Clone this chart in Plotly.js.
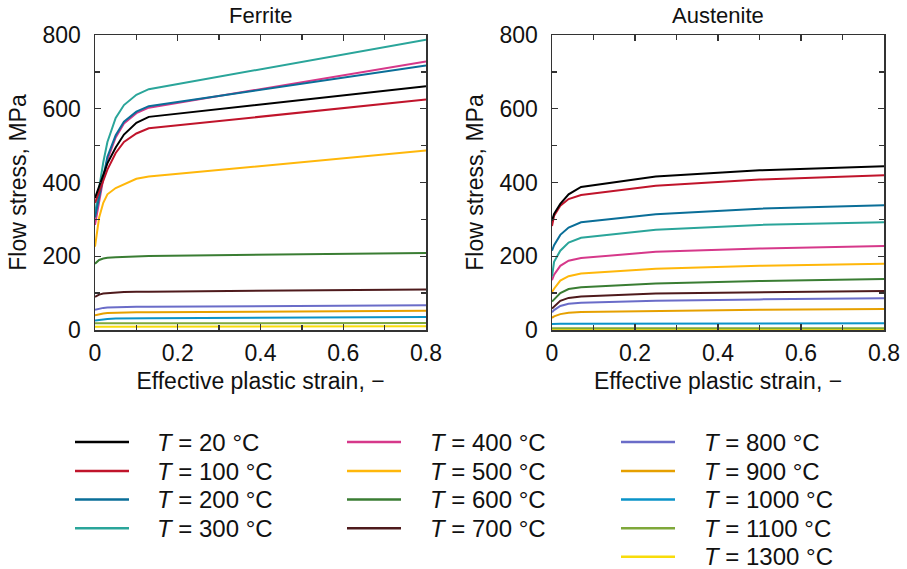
<!DOCTYPE html>
<html>
<head>
<meta charset="utf-8">
<script src="https://cdn.plot.ly/plotly-3.0.1.min.js"></script>
<style>html,body{margin:0;padding:0;background:#fff;}#chart{width:907px;height:569px;}</style>
</head>
<body>
<div id="chart"></div>
<script>
// ---- data ----
const temperatures = [20, 100, 200, 300, 400, 500, 600, 700, 800, 900, 1000, 1100, 1300];
const colors = ['#000000', '#c0142b', '#0a6e98', '#2aa59a', '#d6388a', '#ffb70a', '#3a7d33',
                '#4e1a1c', '#6a6cc8', '#e6a000', '#0a93c8', '#7fa83a', '#f8dc0a'];

const strainFerrite = [0, 0.01, 0.02, 0.03, 0.05, 0.07, 0.10, 0.13, 0.8];
const ferrite20   = [358, 390, 420, 452, 495, 530, 562, 578, 661];
const ferrite100  = [345, 375, 405, 435, 480, 510, 533, 547, 625];
const ferrite200  = [305, 360, 415, 470, 528, 565, 592, 607, 717];
const ferrite300  = [315, 385, 455, 510, 575, 610, 638, 653, 787];
const ferrite400  = [285, 350, 410, 462, 522, 560, 588, 603, 728];
const ferrite500  = [226, 305, 345, 368, 385, 395, 410, 416, 487];
const ferrite600  = [180, 190, 194, 196, 197, 198, 200, 201, 209];
const ferrite700  = [90, 96, 99, 100, 102, 103, 104, 104, 110];
const ferrite800  = [55, 58, 60, 61, 62, 62.5, 63, 63, 67];
const ferrite900  = [40, 43, 45, 46, 47, 47.5, 48, 48, 52];
const ferrite1000 = [26, 28, 29, 30, 31, 31, 31.5, 32, 35];
const ferrite1100 = [18, 18, 18.5, 18.5, 18.5, 18.5, 19, 19, 19];
const ferrite1300 = [9, 9, 9, 9, 9.5, 9.5, 9.5, 9.5, 10];

const strainAustenite = [0, 0.005, 0.02, 0.04, 0.07, 0.25, 0.5, 0.8];
const austenite20   = [297, 315, 342, 368, 388, 416, 433, 444];
const austenite100  = [282, 310, 337, 355, 366, 391, 408, 420];
const austenite200  = [215, 230, 258, 278, 292, 314, 329, 338];
const austenite300  = [145, 185, 215, 237, 250, 272, 285, 292];
const austenite400  = [135, 150, 174, 188, 195, 212, 221, 228];
const austenite500  = [103, 112, 134, 146, 153, 166, 174, 180];
const austenite600  = [77, 83, 100, 111, 116, 126, 133, 138];
const austenite700  = [58, 64, 79, 87, 91, 99, 103, 106];
const austenite800  = [48, 54, 65, 71, 74, 79, 83, 86];
const austenite900  = [33, 37, 43, 47, 49, 52, 55, 57];
const austenite1000 = [16, 16.5, 17, 17, 17, 17.5, 18, 18];
const austenite1100 = [5, 5, 5, 5, 5, 5, 5, 5];
const austenite1300 = [2, 2, 2, 2, 2, 2, 2, 2];

const xTickVals = [0, 0.2, 0.4, 0.6, 0.8];
const xTickText = ['0', '0.2', '0.4', '0.6', '0.8'];
const yTickVals = [0, 200, 400, 600, 800];
const panelTitles = ['Ferrite', 'Austenite'];
const xTitle = 'Effective plastic strain, \u2212';
const yTitle = 'Flow stress, MPa';

const ferriteSeries = [ferrite20, ferrite100, ferrite200, ferrite300, ferrite400, ferrite500, ferrite600,
                       ferrite700, ferrite800, ferrite900, ferrite1000, ferrite1100, ferrite1300];
const austeniteSeries = [austenite20, austenite100, austenite200, austenite300, austenite400, austenite500,
                         austenite600, austenite700, austenite800, austenite900, austenite1000,
                         austenite1100, austenite1300];

// ---- layout geometry (pixels) ----
const W = 907, H = 569;
const M = {l: 95, r: 23, t: 34.5, b: 238.5};
const PW = W - M.l - M.r, PH = H - M.t - M.b;
const px2x = p => (p - M.l) / PW;
const py2y = p => (H - M.b - p) / PH;

const FONT = 'Liberation Sans, Arial, sans-serif';
const TXT = '#111';

const traces = [];
// draw in reverse so the low-temperature lines sit on top like the reference
for (let i = temperatures.length - 1; i >= 0; i--) {
  traces.push({x: strainFerrite, y: ferriteSeries[i], xaxis: 'x', yaxis: 'y', mode: 'lines',
    line: {color: colors[i], width: 2}, name: 'T = ' + temperatures[i] + ' \u00B0C', showlegend: false});
  traces.push({x: strainAustenite, y: austeniteSeries[i], xaxis: 'x2', yaxis: 'y2', mode: 'lines',
    line: {color: colors[i], width: 2}, name: 'T = ' + temperatures[i] + ' \u00B0C', showlegend: false});
}

function xaxisDef(domain) {
  return {domain: domain, range: [0, 0.8], tickvals: xTickVals, ticktext: xTickText,
    ticks: 'inside', ticklen: 6, tickwidth: 1.3, tickcolor: '#333',
    minor: {tickvals: [0.1, 0.3, 0.5, 0.7], ticks: 'inside', ticklen: 5, tickwidth: 1.3, tickcolor: '#333'},
    showline: true, linecolor: '#333', linewidth: 1.5, mirror: 'allticks',
    showgrid: false, zeroline: false, fixedrange: true, ticklabelstandoff: 2,
    tickfont: {family: FONT, size: 23, color: TXT},
    title: {text: xTitle, font: {family: FONT, size: 23, color: TXT}, standoff: 8}};
}
function yaxisDef(anchor) {
  return {domain: [0, 1], range: [0, 800], tickvals: yTickVals, anchor: anchor,
    ticks: 'inside', ticklen: 6, tickwidth: 1.3, tickcolor: '#333',
    minor: {tickvals: [100, 300, 500, 700], ticks: 'inside', ticklen: 5, tickwidth: 1.3, tickcolor: '#333'},
    showline: true, linecolor: '#333', linewidth: 1.5, mirror: 'allticks',
    showgrid: false, zeroline: false, fixedrange: true, ticklabelstandoff: 8,
    tickfont: {family: FONT, size: 23, color: TXT},
    title: {text: yTitle, font: {family: FONT, size: 23, color: TXT}, standoff: 9}};
}

const leftDom = [0, px2x(426)], rightDom = [px2x(552), 1];

const annotations = [];
const shapes = [];
// panel titles
annotations.push({xref: 'paper', yref: 'paper', x: (leftDom[0] + leftDom[1]) / 2, y: py2y(15),
  text: panelTitles[0], showarrow: false, xanchor: 'center', yanchor: 'middle',
  font: {family: FONT, size: 22, color: TXT}});
annotations.push({xref: 'paper', yref: 'paper', x: (rightDom[0] + rightDom[1]) / 2, y: py2y(15),
  text: panelTitles[1], showarrow: false, xanchor: 'center', yanchor: 'middle',
  font: {family: FONT, size: 22, color: TXT}});

// legend in three columns (4, 4, 5 entries)
const colStartIdx = [0, 4, 8, 13];
const colLineX = [[75, 129], [347, 401], [621, 675]];
const colTextX = [155, 428, 702];
const rowY = [443, 472, 500.5, 529.5, 558];
for (let c = 0; c < 3; c++) {
  for (let i = colStartIdx[c]; i < colStartIdx[c + 1]; i++) {
    const r = i - colStartIdx[c];
    shapes.push({type: 'line', xref: 'paper', yref: 'paper',
      x0: px2x(colLineX[c][0]), x1: px2x(colLineX[c][1]), y0: py2y(rowY[r]), y1: py2y(rowY[r]),
      line: {color: colors[i], width: 2.5}});
    annotations.push({xref: 'paper', yref: 'paper', x: px2x(colTextX[c]), y: py2y(rowY[r]),
      text: '<i>T</i> = ' + temperatures[i] + ' \u00B0C', showarrow: false,
      xanchor: 'left', yanchor: 'middle', font: {family: FONT, size: 24, color: TXT}});
  }
}

const layout = {
  width: W, height: H, margin: M, paper_bgcolor: '#fff', plot_bgcolor: '#fff',
  showlegend: false,
  xaxis: Object.assign(xaxisDef(leftDom), {anchor: 'y'}),
  yaxis: yaxisDef('x'),
  xaxis2: Object.assign(xaxisDef(rightDom), {anchor: 'y2'}),
  yaxis2: yaxisDef('x2'),
  annotations: annotations, shapes: shapes
};

Plotly.newPlot('chart', traces, layout, {staticPlot: true, displayModeBar: false});
</script>
</body>
</html>
